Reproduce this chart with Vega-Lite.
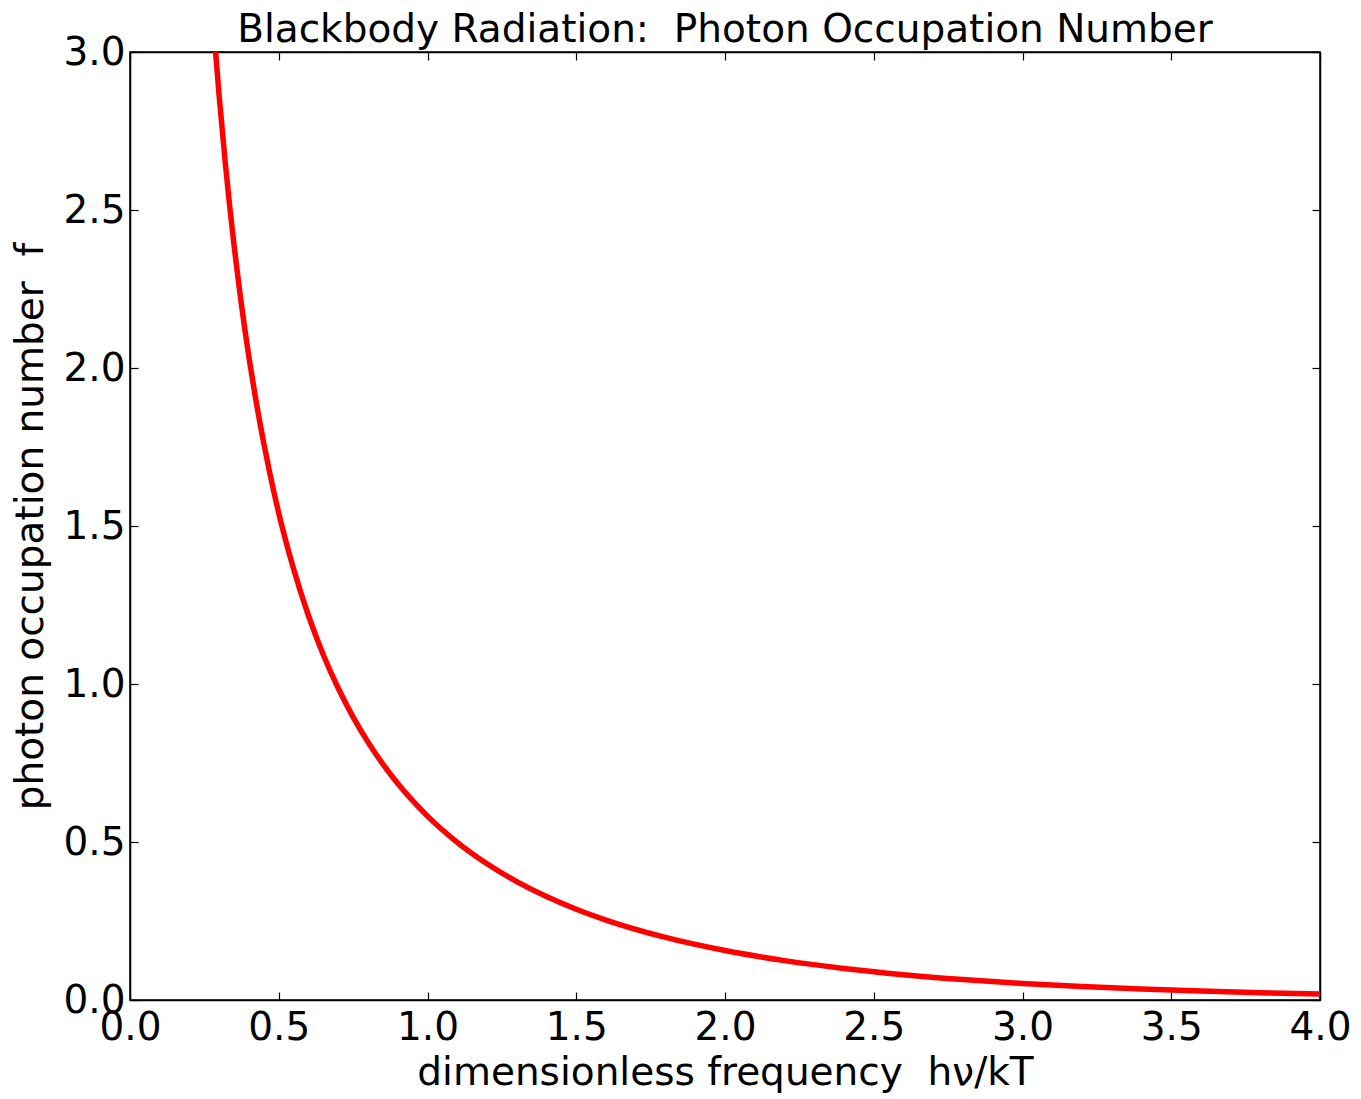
{
  "$schema": "https://vega.github.io/schema/vega-lite/v6.json",
  "width": 1190,
  "height": 948,
  "autosize": {"type": "none"},
  "padding": {"left": 130, "top": 52, "right": 41, "bottom": 99},
  "background": "white",
  "title": {
    "text": "Blackbody Radiation:\u00a0\u00a0Photon Occupation Number",
    "font": "DejaVu Sans",
    "fontSize": 39,
    "fontWeight": "normal",
    "color": "black",
    "offset": -17,
    "anchor": "middle"
  },
  "config": {
    "view": {"stroke": "black", "strokeWidth": 1.5},
    "axis": {
      "grid": false,
      "domainColor": "black",
      "domainWidth": 1.5,
      "tickColor": "black",
      "tickWidth": 1.2,
      "tickSize": -8,
      "labelFont": "DejaVu Sans",
      "labelFontSize": 39,
      "labelColor": "black",
      "labelFlush": false,
      "labelOverlap": false,
      "titleFont": "DejaVu Sans",
      "titleFontSize": 39,
      "titleFontWeight": "normal",
      "titleColor": "black"
    }
  },
  "data": {
    "values": [
      {"x": 0.27, "f": 3.226},
      {"x": 0.28, "f": 3.095},
      {"x": 0.29, "f": 2.973},
      {"x": 0.30, "f": 2.858},
      {"x": 0.32, "f": 2.652},
      {"x": 0.35, "f": 2.386},
      {"x": 0.37, "f": 2.233},
      {"x": 0.40, "f": 2.033},
      {"x": 0.42, "f": 1.916},
      {"x": 0.45, "f": 1.760},
      {"x": 0.47, "f": 1.667},
      {"x": 0.50, "f": 1.541},
      {"x": 0.55, "f": 1.364},
      {"x": 0.60, "f": 1.216},
      {"x": 0.65, "f": 1.092},
      {"x": 0.70, "f": 0.9864},
      {"x": 0.75, "f": 0.8953},
      {"x": 0.80, "f": 0.8160},
      {"x": 0.85, "f": 0.7465},
      {"x": 0.90, "f": 0.6851},
      {"x": 0.95, "f": 0.6307},
      {"x": 1.00, "f": 0.5820},
      {"x": 1.10, "f": 0.4990},
      {"x": 1.20, "f": 0.4310},
      {"x": 1.30, "f": 0.3746},
      {"x": 1.40, "f": 0.3273},
      {"x": 1.50, "f": 0.2872},
      {"x": 1.60, "f": 0.2530},
      {"x": 1.80, "f": 0.1980},
      {"x": 2.00, "f": 0.1565},
      {"x": 2.20, "f": 0.1246},
      {"x": 2.40, "f": 0.0998},
      {"x": 2.60, "f": 0.0802},
      {"x": 2.80, "f": 0.0647},
      {"x": 3.00, "f": 0.0524},
      {"x": 3.20, "f": 0.0425},
      {"x": 3.40, "f": 0.0345},
      {"x": 3.60, "f": 0.0281},
      {"x": 3.80, "f": 0.0229},
      {"x": 4.00, "f": 0.0187}
    ]
  },
  "layer": [
    {
      "mark": {"type": "line", "color": "#ff0000", "strokeWidth": 5.5, "clip": true, "interpolate": "monotone"},
      "encoding": {
        "x": {
          "field": "x", "type": "quantitative",
          "scale": {"domain": [0, 4], "nice": false, "zero": false},
          "axis": {
            "orient": "bottom",
            "values": [0, 0.5, 1, 1.5, 2, 2.5, 3, 3.5, 4],
            "format": ".1f",
            "labelPadding": 16,
            "title": "dimensionless frequency\u00a0\u00a0hν/kT",
            "titlePadding": 6
          }
        },
        "y": {
          "field": "f", "type": "quantitative",
          "scale": {"domain": [0, 3], "nice": false, "zero": false},
          "axis": {
            "orient": "left",
            "values": [0, 0.5, 1, 1.5, 2, 2.5, 3],
            "format": ".1f",
            "labelPadding": 13,
            "title": "photon occupation number\u00a0\u00a0f",
            "titlePadding": 12
          }
        }
      }
    },
    {
      "mark": {"type": "line", "opacity": 0, "clip": true},
      "encoding": {
        "x": {
          "field": "x", "type": "quantitative",
          "axis": {
            "orient": "top",
            "values": [0, 0.5, 1, 1.5, 2, 2.5, 3, 3.5, 4],
            "labels": false,
            "title": null
          }
        },
        "y": {
          "field": "f", "type": "quantitative",
          "axis": {
            "orient": "right",
            "values": [0, 0.5, 1, 1.5, 2, 2.5, 3],
            "labels": false,
            "title": null
          }
        }
      }
    }
  ],
  "resolve": {"axis": {"x": "independent", "y": "independent"}}
}
